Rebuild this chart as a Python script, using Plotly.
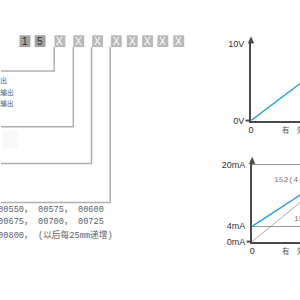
import plotly.graph_objects as go

# ---------------- data ----------------
code_chars = ['1', '5', 'X', 'X', 'X', 'X', 'X', 'X', 'X', 'X']
output_labels = ['电压输出', '1:电流输出', '1:电流输出']
length_lines = ['00550， 00575， 00600',
                '00675， 00700， 00725',
                '00800， (以后每25mm递增)']

stroke_pct = [0, 100]
voltage_out = [0, 10]
voltage_ticks = [0, 10]
voltage_ticktext = ['0V', '10V']

current_4_20 = [4, 20]
current_0_20 = [0, 20]
current_ticks = [0, 4, 20]
current_ticktext = ['0mA', '4mA', '20mA']
x_ticks = [0]
x_ticktext = ['0']
axis_title = '有　效　行　程'
label_4_20 = '152(4-20mA)'
label_0_20 = '151(0-20mA)'

W = H = 300
def px(x):
    return x / W
def py(y):
    return 1 - y / H

BLUE = '#2ba4d9'
AXC = '#4a4a4a'
LINEC = '#b0b0b0'

fig = go.Figure()
fig.add_trace(go.Scatter(x=stroke_pct, y=voltage_out, mode='lines',
                         line=dict(color=BLUE, width=1.5), xaxis='x', yaxis='y',
                         showlegend=False, hoverinfo='skip'))
fig.add_trace(go.Scatter(x=stroke_pct, y=current_0_20, mode='lines',
                         line=dict(color='#a8a8a8', width=1), xaxis='x2', yaxis='y2',
                         showlegend=False, hoverinfo='skip'))
fig.add_trace(go.Scatter(x=stroke_pct, y=current_4_20, mode='lines',
                         line=dict(color=BLUE, width=1.5), xaxis='x2', yaxis='y2',
                         showlegend=False, hoverinfo='skip'))

tickfont = dict(family='Arial, Liberation Sans', size=9, color='#333')
common_x = dict(showline=True, linecolor=AXC, linewidth=2, ticks='', showgrid=False,
                zeroline=False, tickvals=x_ticks, ticktext=x_ticktext, tickfont=tickfont)
common_y = dict(showline=True, linecolor=AXC, linewidth=2, ticks='', zeroline=False,
                tickfont=tickfont, ticklabelstandoff=3)

fig.update_layout(
    xaxis=dict(domain=[px(250.5), 1], range=[0, 49.5 / 102.6 * 100], anchor='y', **common_x),
    yaxis=dict(domain=[py(122), py(40)], range=[0, 82 / 7.8], anchor='x',
               tickvals=voltage_ticks, ticktext=voltage_ticktext, showgrid=False, **common_y),
    xaxis2=dict(domain=[px(251.7), 1], range=[0, 48.3 / 95 * 100], anchor='y2', **common_x),
    yaxis2=dict(domain=[py(245.5), py(163)], range=[0, 82.5 / 3.91], anchor='x2',
                tickvals=current_ticks, ticktext=current_ticktext, showgrid=True,
                gridcolor='#9a9a9a', gridwidth=1, **common_y),
)

shapes = []
annotations = []

# code boxes
box_left = [16.7, 32, 52, 71, 90, 109, 125, 140.5, 156, 172]
box_w = 11
for ch, xl in zip(code_chars, box_left):
    fill = '#a2a2a2' if ch != 'X' else '#b9b9b9'
    shapes.append(dict(type='rect', xref='paper', yref='paper', x0=px(xl), x1=px(xl + box_w),
                       y0=py(47), y1=py(35), fillcolor=fill, line=dict(width=0), layer='below'))
    annotations.append(dict(x=px(xl + box_w / 2), y=py(41.3), xref='paper', yref='paper',
                            text=ch, showarrow=False, xanchor='center', yanchor='middle',
                            font=dict(family='Arial, Liberation Sans', size=10,
                                      color='#2a2a2a' if ch != 'X' else 'white')))

# connector lines
conn = [(51.7, 71.5), (71, 128.3), (89.4, 165.7), (108.3, 205.7)]
for xv, yh in conn:
    shapes.append(dict(type='path', xref='paper', yref='paper',
                       path=f'M {px(xv)},{py(47)} L {px(xv)},{py(yh)} L {px(-2)},{py(yh)}',
                       line=dict(color=LINEC, width=1.5)))

# faint block
shapes.append(dict(type='rect', xref='paper', yref='paper', x0=0, x1=px(15), y0=py(150), y1=py(133),
                   fillcolor='#f8f8f8', line=dict(width=0), layer='below'))

# output type labels
lab_y = [80.5, 92.5, 104.3]
lab_r = [5.8, 11.8, 11.8]
for t, yy, xr in zip(output_labels, lab_y, lab_r):
    annotations.append(dict(x=px(xr), y=py(yy), xref='paper', yref='paper', text=t,
                            showarrow=False, xanchor='right', yanchor='middle',
                            font=dict(family='Noto Sans CJK SC', size=6.5, color='#555')))

# length code lines
for t, yy in zip(length_lines, [213.3, 226, 238.3]):
    annotations.append(dict(x=px(-7.5), y=py(yy), xref='paper', yref='paper', text=t,
                            showarrow=False, xanchor='left', yanchor='middle',
                            font=dict(family='Liberation Mono, Noto Sans CJK SC', size=8.7, color='#626262')))

# axis arrows and zero-tick extensions
for xa, tip, base, y0 in [(250.5, 36.5, 43, 122), (251.7, 159.5, 166, 245.5)]:
    shapes.append(dict(type='path', xref='paper', yref='paper',
                       path=f'M {px(xa)},{py(tip)} L {px(xa - 2.8)},{py(base)} L {px(xa + 2.8)},{py(base)} Z',
                       fillcolor=AXC, line=dict(color=AXC, width=0.5)))
    shapes.append(dict(type='line', xref='paper', yref='paper', x0=px(xa - 5.5), x1=px(xa),
                       y0=py(y0), y1=py(y0), line=dict(color=AXC, width=2)))

# axis titles (cut by the border)
for yy in [131, 255]:
    annotations.append(dict(x=px(280.3), y=py(yy), xref='paper', yref='paper', text=axis_title,
                            showarrow=False, xanchor='left', yanchor='middle',
                            font=dict(family='Noto Sans CJK SC', size=7.5, color='#555')))

# line labels
annotations.append(dict(x=px(271.5), y=py(182.3), xref='paper', yref='paper', text=label_4_20,
                        showarrow=False, xanchor='left', yanchor='middle',
                        font=dict(family='Liberation Mono', size=8, color='#777')))
annotations.append(dict(x=px(291.5), y=py(221.5), xref='paper', yref='paper', text=label_0_20,
                        showarrow=False, xanchor='left', yanchor='middle',
                        font=dict(family='Liberation Mono', size=8, color='#777')))

fig.update_layout(width=W, height=H, margin=dict(l=0, r=0, t=0, b=0),
                  paper_bgcolor='white', plot_bgcolor='rgba(0,0,0,0)',
                  shapes=shapes, annotations=annotations, showlegend=False)

fig.write_html('out.html')
